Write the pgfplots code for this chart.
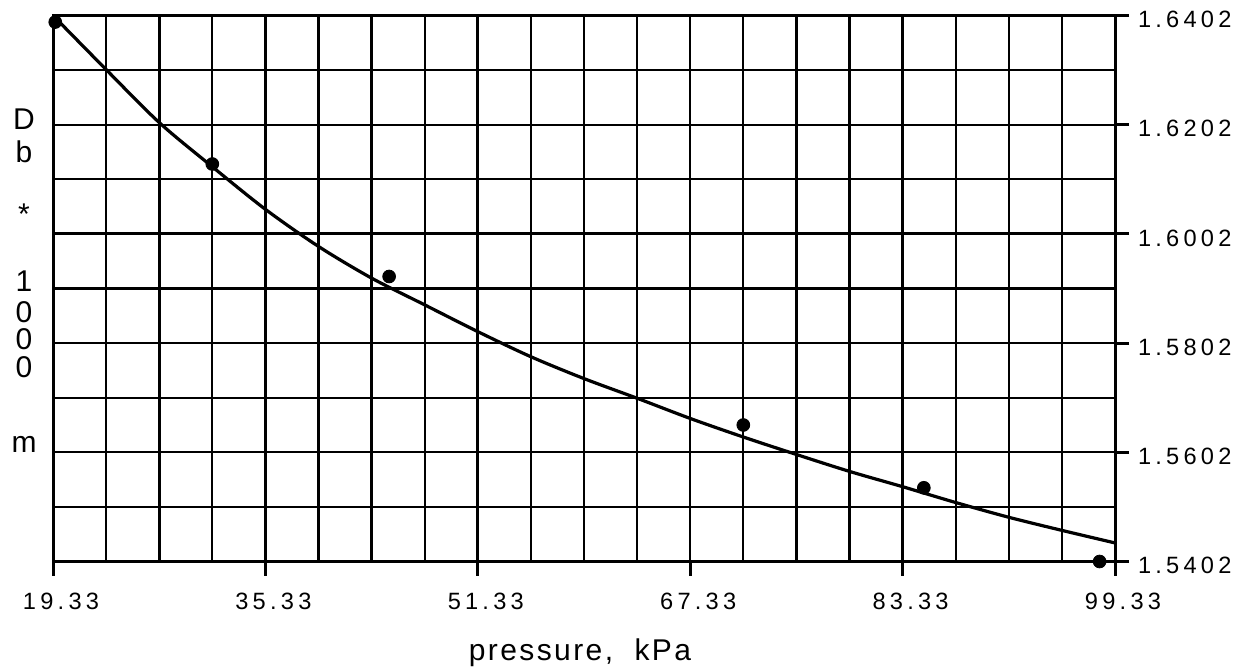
\documentclass[border=0pt]{standalone}
\usepackage{fontspec}
\setmainfont{Liberation Sans}
\newfontfamily\tickfont[LetterSpace=18]{Liberation Sans}
\newfontfamily\labfont[LetterSpace=8]{Liberation Sans}
\usepackage{pgfplots}
\usepackage{pgfplotstable}
\pgfplotsset{compat=1.18}

% measured points
\pgfplotstableread{
x y
19.50 1.6390
31.33 1.6130
44.65 1.5924
71.33 1.5652
84.93 1.5537
98.17 1.5402
}\pts

% fitted curve read at the grid lines
\pgfplotstableread{
x y
19.33 1.6402
23.33 1.6303
27.33 1.6206
31.33 1.6125
35.33 1.6047
39.33 1.5979
43.33 1.5921
47.33 1.5872
51.33 1.5823
55.33 1.5777
59.33 1.5737
63.33 1.5701
67.33 1.5664
71.33 1.5630
75.33 1.5598
79.33 1.5567
83.33 1.5539
87.33 1.5510
91.33 1.5483
95.33 1.5459
99.33 1.5436
}\fitcurve

\begin{document}
\begin{tikzpicture}
\begin{axis}[
  name=ax,
  at={(0,0)}, anchor=south west,
  scale only axis,
  width=531pt, height=273pt,
  xmin=19.33, xmax=99.33,
  ymin=1.5402, ymax=1.6402,
  axis line style={line width=1.5pt},
  xtick={19.33,35.33,51.33,67.33,83.33,99.33},
  xticklabels={19.33,35.33,51.33,67.33,83.33,99.33},
  ytick={1.5402,1.5602,1.5802,1.6002,1.6202,1.6402},
  yticklabels={1.5402,1.5602,1.5802,1.6002,1.6202,1.6402},
  minor x tick num=3,
  minor y tick num=1,
  xtick pos=bottom, ytick pos=right,
  tick align=outside,
  major tick length=7pt,
  minor tick length=0pt,
  tick style={black, line width=1.5pt},
  grid=both,
  major grid style={black, line width=1.15pt},
  minor grid style={black, line width=1.15pt},
  extra x ticks={27.33,51.33,75.33},
  extra x tick labels={},
  extra y ticks={1.6002},
  extra y tick labels={},
  extra tick style={grid=major, major grid style={black, line width=1.6pt}, tick style={draw=none}},
  xticklabel style={font=\fontsize{11.8}{14}\tickfont, xshift=4pt, yshift=-5pt},
  yticklabel style={font=\fontsize{11.8}{14}\tickfont, xshift=1pt, yshift=-2pt},
  clip=false,
]
\addplot[black, line width=1.6pt, smooth] table[x=x, y=y] {\fitcurve};
\addplot[only marks, mark=*, mark size=3.2pt, black] table[x=x, y=y] {\pts};
\end{axis}
% axis title and stacked y label
\node[font=\fontsize{15}{18}\labfont, anchor=base] at ([xshift=263.5pt, yshift=-49.25pt]ax.south west) {pressure,\ \ kPa};
\begin{scope}[every node/.style={font=\fontsize{15}{18}\selectfont, anchor=base, inner sep=0pt}]
\node at ([xshift=-14.5pt, yshift=-57.25pt]ax.north west) {D};
\node at ([xshift=-14.5pt, yshift=-73.75pt]ax.north west) {b};
\node at ([xshift=-14.5pt, yshift=-104.75pt]ax.north west) {*};
\node at ([xshift=-14.5pt, yshift=-138.25pt]ax.north west) {1};
\node at ([xshift=-14.5pt, yshift=-153.75pt]ax.north west) {0};
\node at ([xshift=-14.5pt, yshift=-167.25pt]ax.north west) {0};
\node at ([xshift=-14.5pt, yshift=-181.25pt]ax.north west) {0};
\node at ([xshift=-14.5pt, yshift=-218.75pt]ax.north west) {m};
\end{scope}
\pgfresetboundingbox
\path[use as bounding box] ([shift={(-26.5pt,-53.25pt)}]ax.south west) rectangle ([shift={(62.5pt,7.75pt)}]ax.north east);
\end{tikzpicture}
\end{document}
